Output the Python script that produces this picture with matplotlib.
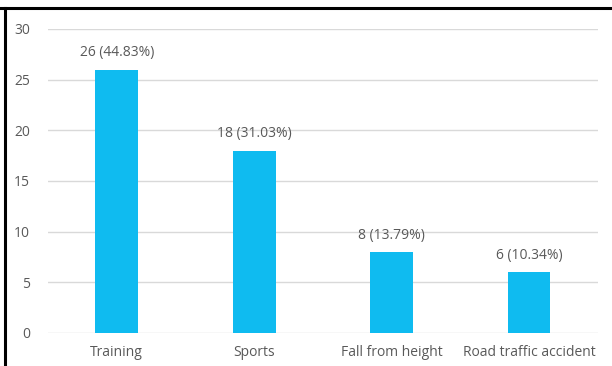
import matplotlib
matplotlib.use("Agg")
import matplotlib.pyplot as plt
from matplotlib.lines import Line2D

categories = ["Training", "Sports", "Fall from height", "Road traffic accident"]
values = [26, 18, 8, 6]
labels = ["26 (44.83%)", "18 (31.03%)", "8 (13.79%)", "6 (10.34%)"]
yticks = [0, 5, 10, 15, 20, 25, 30]

plt.rcParams['font.family'] = ['Open Sans', 'DejaVu Sans']
txt = '#595959'

fig = plt.figure(figsize=(6.12, 3.66), dpi=100)
ax = fig.add_axes([0.0784, 0.0902, 0.8986, 0.8306])
x = list(range(len(categories)))
bars = ax.bar(x, values, width=0.31, color='#0FBBF0', zorder=3)
for b, lab in zip(bars, labels):
    ax.text(b.get_x() + b.get_width() / 2, b.get_height() + 0.9, lab,
            ha='center', va='bottom', fontsize=10, color=txt)
ax.set_xlim(-0.5, 3.5)
ax.set_ylim(0, 30)
ax.set_yticks(yticks)
ax.set_xticks(x)
ax.set_xticklabels(categories)
ax.tick_params(axis='both', length=0, labelsize=10, colors=txt)
ax.tick_params(axis='y', pad=13)
ax.tick_params(axis='x', pad=9)
ax.grid(axis='y', color='#D9D9D9', linewidth=1, zorder=0)
for s in ax.spines.values():
    s.set_visible(False)

fig.add_artist(Line2D([0, 1], [1 - 8 / 366, 1 - 8 / 366], color='black', linewidth=2.2, transform=fig.transFigure))
fig.add_artist(Line2D([5 / 612, 5 / 612], [0, 1 - 8 / 366], color='black', linewidth=2.2, transform=fig.transFigure))

fig.savefig('out.png', dpi=100)
